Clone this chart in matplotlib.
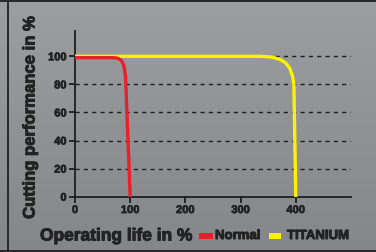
import matplotlib
matplotlib.use("Agg")
import matplotlib.pyplot as plt
import matplotlib.patheffects as pe
import numpy as np
from matplotlib.patches import Rectangle

# data
normal_x = [0, 70, 78, 84, 88, 90, 91.5, 100]
normal_y = [99, 99, 98.5, 97, 94, 90, 86, 0]
titan_x = [0, 335, 355, 370, 381, 389, 394, 396.5, 400]
titan_y = [100, 100, 99.5, 98, 95.5, 91.5, 86, 80, 0]
xticks = [0, 100, 200, 300, 400]
yticks = [0, 20, 40, 60, 80, 100]
grid_levels = [20, 40, 60, 80, 100]

plt.rcParams['font.family'] = ['Liberation Sans', 'DejaVu Sans']
fig = plt.figure(figsize=(3.76, 2.52), dpi=100)
W, H = 376, 252
TXT = '#222222'
heavy = [pe.withStroke(linewidth=0.7, foreground=TXT)]

# background gradient
bg = fig.add_axes([0, 0, 1, 1])
grad = np.linspace(0, 1, 256).reshape(-1, 1)
top = np.array([0x9c, 0x9e, 0xa2]) / 255
bot = np.array([0x84, 0x86, 0x8a]) / 255
img = top[None, None, :] * (1 - grad[:, :, None]) + bot[None, None, :] * grad[:, :, None]
bg.imshow(img, aspect='auto', extent=[0, 1, 0, 1])
bg.set_xlim(0, 1); bg.set_ylim(0, 1)
bg.axis('off')
# border
bg.add_patch(Rectangle((0, 1 - 2 / H), 1, 2 / H, color='#2a2a2c', lw=0))
bg.add_patch(Rectangle((0, 0), 1, 2 / H, color='#2a2a2c', lw=0))
bg.add_patch(Rectangle((7 / W, 0), 1.5 / W, 1, color='#2a2a2c', lw=0))

ax = fig.add_axes([75 / W, (252 - 196.7) / H, (351 - 75) / W, (196.7 - 31) / H])
ax.patch.set_alpha(0)
ax.set_xlim(0, 500)
ax.set_ylim(0, 118)
for lv in grid_levels:
    ax.plot([0, 500], [lv, lv], color='#1e1e1e', lw=1.0, dashes=(3, 3), zorder=1)
ax.plot(titan_x, titan_y, color='#fff200', lw=2.4, solid_joinstyle='round', zorder=3)
ax.plot(normal_x, normal_y, color='#e8202a', lw=2.4, solid_joinstyle='round', zorder=4)

for s in ['top', 'right']:
    ax.spines[s].set_visible(False)
for s in ['left', 'bottom']:
    ax.spines[s].set_color('#1e1e1e')
    ax.spines[s].set_linewidth(1.3)
ax.set_xticks(xticks)
ax.set_yticks(yticks)
ax.tick_params(axis='both', direction='out', length=4, width=1.3, color='#1e1e1e',
               labelsize=8, labelcolor=TXT, pad=2)
for lab in ax.get_xticklabels() + ax.get_yticklabels():
    lab.set_fontweight('bold')
    lab.set_path_effects([pe.withStroke(linewidth=0.5, foreground=TXT)])

fig.text(30 / W, 1 - 118 / H, 'Cutting performance in %', rotation=90, ha='center', va='center',
         fontsize=12, fontweight='bold', color=TXT, path_effects=heavy)
fig.text(40 / W, 1 - 236 / H, 'Operating life in %', ha='left', va='center',
         fontsize=12.5, fontweight='bold', color=TXT, path_effects=heavy)
bg.add_patch(Rectangle((199 / W, 1 - 239 / H), 14 / W, 6 / H, color='#e8202a', lw=0))
fig.text(215 / W, 1 - 236 / H, 'Normal', ha='left', va='center',
         fontsize=9.5, fontweight='bold', color=TXT, path_effects=heavy)
bg.add_patch(Rectangle((269 / W, 1 - 239 / H), 12 / W, 6 / H, color='#fff200', lw=0))
fig.text(287 / W, 1 - 236 / H, 'TITANIUM', ha='left', va='center',
         fontsize=9.5, fontweight='bold', color=TXT, path_effects=heavy)

fig.savefig('out.png', dpi=100)
